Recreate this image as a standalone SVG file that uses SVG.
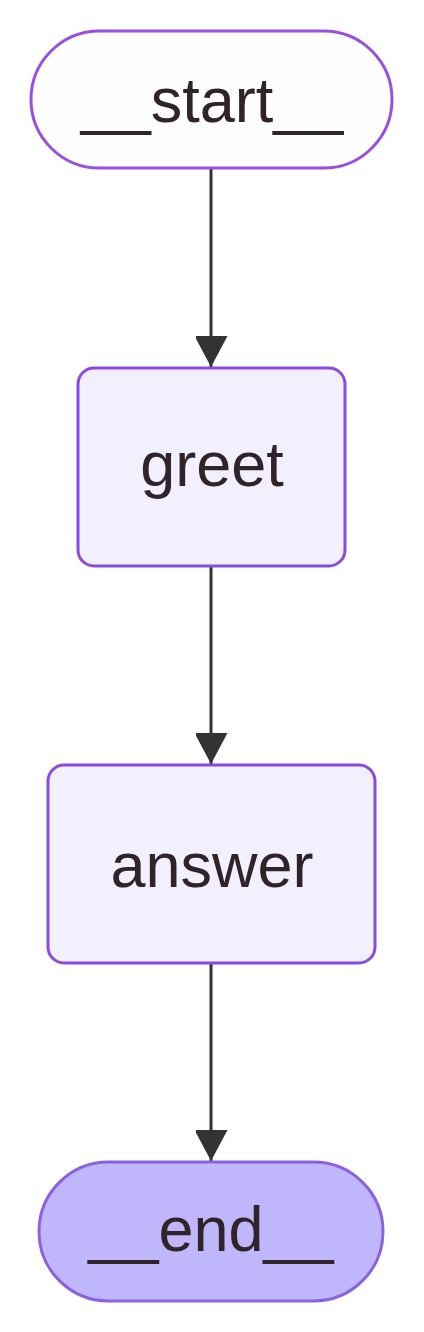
<svg xmlns="http://www.w3.org/2000/svg" width="424" height="1332" viewBox="0 0 424 1332">
<style>
.node{fill:#f2f0ff;stroke:#8a4be3;stroke-width:3}
.start{fill:#fefefe;stroke:#9a4fe2;stroke-width:3}
.end{fill:#bfb6fb;stroke:#8a62e0;stroke-width:3}
.lbl{font-family:"Liberation Sans",Arial,sans-serif;font-size:63px;fill:#2f2428;text-anchor:middle}
.edge{stroke:#333;stroke-width:3;fill:none}
</style>
<defs>
<marker id="arr" markerUnits="userSpaceOnUse" markerWidth="34" markerHeight="32" refX="31" refY="16.5" orient="auto">
<path d="M0,0 L31,16.5 L0,33 Z" fill="#333"/>
</marker>
</defs>
<rect width="424" height="1332" fill="#ffffff"/>
<g id="connectors">
<path class="edge" d="M211,168 L211,367" marker-end="url(#arr)"/>
<path class="edge" d="M211,566 L211,764" marker-end="url(#arr)"/>
<path class="edge" d="M211,963 L211,1161" marker-end="url(#arr)"/>
</g>
<g id="node-start">
<rect class="start" x="31" y="31" width="361" height="137" rx="68.5"/>
<text class="lbl" x="212" y="122">__start__</text>
</g>
<g id="node-greet">
<rect class="node" x="78" y="368" width="267" height="198" rx="16"/>
<text class="lbl" x="212" y="486">greet</text>
</g>
<g id="node-answer">
<rect class="node" x="48" y="765" width="327" height="198" rx="16"/>
<text class="lbl" x="212" y="887">answer</text>
</g>
<g id="node-end">
<rect class="end" x="39" y="1162" width="344" height="139" rx="69.5"/>
<text class="lbl" x="211" y="1251">__end__</text>
</g>
</svg>
